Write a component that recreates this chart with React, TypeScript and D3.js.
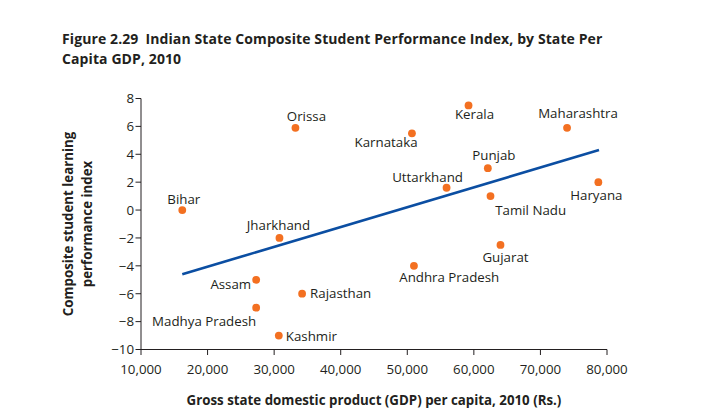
import React from "react";
import * as d3 from "d3";

const states = ["Orissa", "Bihar", "Jharkhand", "Assam", "Rajasthan", "Madhya Pradesh", "Kashmir", "Kerala", "Karnataka", "Maharashtra", "Punjab", "Uttarkhand", "Tamil Nadu", "Haryana", "Gujarat", "Andhra Pradesh"];
const gdp = [33200, 16200, 30800, 27300, 34200, 27300, 30700, 59200, 50700, 74000, 62100, 55900, 62500, 78700, 64000, 51000];
const index = [5.9, 0, -2, -5, -6, -7, -9, 7.5, 5.5, 5.9, 3, 1.6, 1, 2, -2.5, -4];
const trendX = [16200, 78800];
const trendY = [-4.6, 4.3];
const xTicks = [10000, 20000, 30000, 40000, 50000, 60000, 70000, 80000];
const yTicks = [8, 6, 4, 2, 0, -2, -4, -6, -8, -10];

// label layout: [dx, dy, anchor]
const labelLayout: [number, number, string][] = [
  [11, -7, "middle"],
  [1.5, -6.5, "middle"],
  [-1, -8, "middle"],
  [-5, 9, "end"],
  [8, 4.5, "start"],
  [0, 18, "end"],
  [7, 5, "start"],
  [6, 13.6, "middle"],
  [5.6, 13.5, "end"],
  [11, -9.7, "middle"],
  [6, -8.4, "middle"],
  [-19, -6, "middle"],
  [4.7, 19, "start"],
  [-2, 17.7, "middle"],
  [5, 17.4, "middle"],
  [-14.7, 15.7, "start"],
];

const W = 711, H = 418;
const FONT = "'Open Sans', Lato, sans-serif";
const INK = "#231f20";

export default function App() {
  const x = d3.scaleLinear().domain([10000, 80000]).range([141, 607]);
  const y = d3.scaleLinear().domain([-10, 8]).range([349.5, 98.5]);
  const fmt = d3.format(",");
  const yfmt = (v: number) => (v < 0 ? "\u2212" + Math.abs(v) : String(v));
  const line = d3.line<number>().x((d) => x(trendX[d])).y((d) => y(trendY[d]));
  return (
    <svg width={W} height={H} style={{ position: "absolute", left: 0, top: 0, background: "#fff" }} fontFamily={FONT}>
      <text x={62} y={44} fontSize={14} fontWeight={700} fill={INK} letterSpacing={0.1}>
        <tspan>Figure 2.29</tspan>
        <tspan dx={7}>Indian State Composite Student Performance Index, by State Per</tspan>
      </text>
      <text x={62} y={64.3} fontSize={14} fontWeight={700} fill={INK} letterSpacing={0.1}>Capita GDP, 2010</text>

      {/* axes */}
      <line x1={141} x2={141} y1={y(8)} y2={y(-10)} stroke={INK} strokeWidth={1} />
      <line x1={141} x2={607} y1={y(-10)} y2={y(-10)} stroke={INK} strokeWidth={1} />
      {yTicks.map((t) => (
        <g key={"y" + t}>
          <line x1={135.5} x2={141} y1={y(t)} y2={y(t)} stroke={INK} />
          <text x={134} y={y(t)} dy="0.36em" textAnchor="end" fontSize={13.3} fill={INK}>{yfmt(t)}</text>
        </g>
      ))}
      {xTicks.map((t) => (
        <g key={"x" + t}>
          <line x1={x(t)} x2={x(t)} y1={y(-10)} y2={y(-10) + 5.5} stroke={INK} />
          <text x={x(t)} y={374.3} textAnchor="middle" fontSize={13.3} fill={INK}>{fmt(t)}</text>
        </g>
      ))}
      <text x={374} y={405} textAnchor="middle" fontSize={13.3} fontWeight={700} fill={INK}>
        Gross state domestic product (GDP) per capita, 2010 (Rs.)
      </text>
      <text transform="translate(72.5,224) rotate(-90)" textAnchor="middle" fontSize={13.3} fontWeight={700} fill={INK}>
        <tspan x={0} dy={0}>Composite student learning</tspan>
        <tspan x={0} dy={19}>performance index</tspan>
      </text>

      <path d={line([0, 1]) || ""} stroke="#0b4ea2" strokeWidth={2.6} fill="none" />

      {states.map((s, i) => (
        <g key={s}>
          <circle cx={x(gdp[i])} cy={y(index[i])} r={3.9} fill="#f37021" />
          <text
            x={x(gdp[i]) + labelLayout[i][0]}
            y={y(index[i]) + labelLayout[i][1]}
            textAnchor={labelLayout[i][2] as any}
            fontSize={13.3}
            fill={INK}
          >
            {s}
          </text>
        </g>
      ))}
    </svg>
  );
}
